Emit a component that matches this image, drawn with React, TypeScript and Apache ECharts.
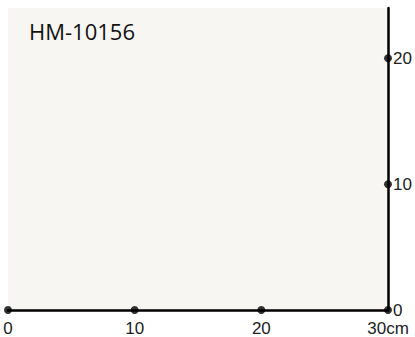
import React, { useEffect, useRef } from "react";
import * as echarts from "echarts";

const title = "HM-10156";
const xTicks = [0, 10, 20, 30];
const yTicks = [10, 20];
const xMax = 30;
const yMax = 24;
const unit = "cm";

export default function App() {
  const ref = useRef<HTMLDivElement>(null);
  useEffect(() => {
    if (!ref.current) return;
    const chart = echarts.init(ref.current, null, { renderer: "svg" });
    const dots: number[][] = [
      ...xTicks.map((x) => [x, 0]),
      ...yTicks.map((y) => [xMax, y]),
    ];
    chart.setOption({
      animation: false,
      title: {
        text: title,
        left: 24,
        top: 15,
        textStyle: { fontFamily: "Open Sans", fontSize: 22, fontWeight: "normal", color: "#111" },
      },
      grid: {
        left: 8,
        right: 27,
        top: 8,
        bottom: 27,
        show: true,
        borderWidth: 0,
        backgroundColor: "#f8f6f2",
      },
      xAxis: {
        type: "value",
        min: 0,
        max: xMax,
        interval: 10,
        axisLine: { show: true, onZero: false, lineStyle: { color: "#000", width: 2.5 } },
        axisTick: { show: false },
        splitLine: { show: false },
        axisLabel: {
          margin: 11,
          fontFamily: "Liberation Sans",
          fontSize: 17,
          lineHeight: 14,
          color: "#222",
          formatter: (v: number) => (v === xMax ? `${v}${unit}` : `${v}`),
        },
      },
      yAxis: {
        type: "value",
        position: "right",
        min: 0,
        max: yMax,
        interval: 10,
        axisLine: { show: true, onZero: false, lineStyle: { color: "#000", width: 2.5 } },
        axisTick: { show: false },
        splitLine: { show: false },
        axisLabel: {
          margin: 5,
          fontFamily: "Liberation Sans",
          fontSize: 17,
          lineHeight: 14,
          padding: [0, 0, 2, 0],
          color: "#222",
          formatter: (v: number) => (v % 10 === 0 ? `${v}` : ""),
        },
      },
      series: [
        {
          type: "scatter",
          data: dots,
          symbol: "circle",
          symbolSize: 8,
          itemStyle: { color: "#000" },
          clip: false,
          z: 10,
        },
      ],
    });
    return () => chart.dispose();
  }, []);
  return <div ref={ref} style={{ width: 415, height: 337, position: "absolute", left: 0, top: 0 }} />;
}
